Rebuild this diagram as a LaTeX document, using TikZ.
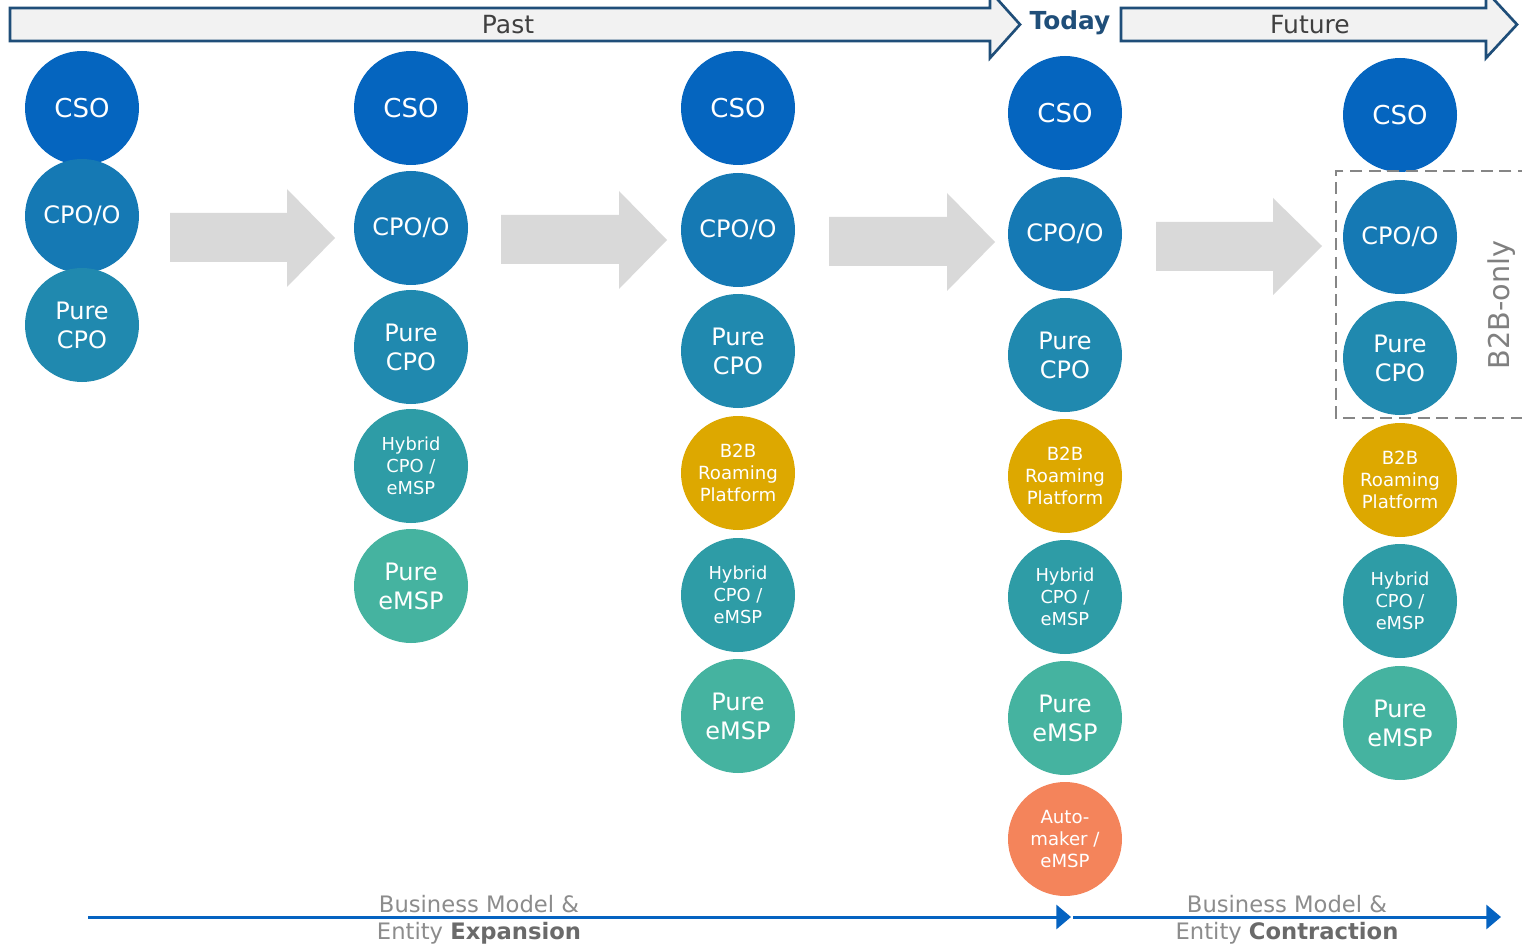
\documentclass[tikz,border=0pt]{standalone}
\usepackage{fontspec}
\setmainfont{DejaVu Sans}
\usetikzlibrary{arrows.meta}
\definecolor{cso}{HTML}{0565BF}
\definecolor{cpoo}{HTML}{1579B4}
\definecolor{purecpo}{HTML}{2089AF}
\definecolor{hybrid}{HTML}{2E9CA6}
\definecolor{pureemsp}{HTML}{45B3A0}
\definecolor{btob}{HTML}{DDA800}
\definecolor{auto}{HTML}{F4845B}
\definecolor{navy}{HTML}{1F4E79}
\definecolor{hdrfill}{HTML}{F2F2F2}
\definecolor{bigarrow}{HTML}{D9D9D9}
\definecolor{lineblue}{HTML}{0563C1}
\definecolor{txtgray}{HTML}{8C8C8C}
\definecolor{txtdark}{HTML}{6A6A6A}
\tikzset{
  circ/.style={circle, minimum size=85.5pt, inner sep=0pt, text=white, align=center},
  bigtxt/.style={font=\fontsize{19.5}{21.75}\selectfont},
  midtxt/.style={font=\fontsize{18}{21.75}\selectfont},
  smalltxt/.style={font=\fontsize{13.4}{16.5}\selectfont},
  b2btxt/.style={font=\fontsize{13.6}{16.5}\selectfont},
  hdr/.style={draw=navy, line width=2pt, fill=hdrfill, line join=miter},
  grayarrow/.style={fill=bigarrow, draw=none},
  hdrtxt/.style={font=\fontsize{18.75}{22}\selectfont, text=black!75},
  bluearrow/.style={draw=lineblue, line width=2.25pt, -{Triangle[length=11pt,width=18pt]}},
  bottxt/.style={font=\fontsize{17}{20}\selectfont, text=txtgray, align=center}
}
\begin{document}
\begin{tikzpicture}[x=0.75pt,y=-0.75pt]
\clip (0,0) rectangle (1522,945);
\fill[white] (0,0) rectangle (1522,945);
% header arrows
\path[hdr] (10,8) -- (990,8) -- (990,-9) -- (1020,24.5) -- (990,58) -- (990,41) -- (10,41) -- cycle;
\node[hdrtxt] (past) at (508,25) {Past};
\node[font=\bfseries\fontsize{18.6}{20}\selectfont, text=navy] (today) at (1070,23) {Today};
\path[hdr] (1121,8) -- (1486,8) -- (1486,-9) -- (1517,24.5) -- (1486,58) -- (1486,41) -- (1121,41) -- cycle;
\node[hdrtxt] (future) at (1310,25) {Future};
% gray arrows
\path[grayarrow] (170,213) -- (287,213) -- (287,189) -- (335,238) -- (287,287) -- (287,262) -- (170,262) -- cycle;
\path[grayarrow] (501,215) -- (619,215) -- (619,191) -- (667,240) -- (619,289) -- (619,264) -- (501,264) -- cycle;
\path[grayarrow] (829,217) -- (947,217) -- (947,193) -- (995,242) -- (947,291) -- (947,266) -- (829,266) -- cycle;
\path[grayarrow] (1156,222) -- (1273,222) -- (1273,198) -- (1322,246) -- (1273,295) -- (1273,271) -- (1156,271) -- cycle;
% column 1
\node[circ, fill=cso, bigtxt] (a1) at (82,108) {CSO};
\node[circ, fill=cpoo, midtxt] (a2) at (82,216) {CPO/O};
\node[circ, fill=purecpo, midtxt] (a3) at (82,325) {Pure\\CPO};
% column 2
\node[circ, fill=cso, bigtxt] (b1) at (411,108) {CSO};
\node[circ, fill=cpoo, midtxt] (b2) at (411,228) {CPO/O};
\node[circ, fill=purecpo, midtxt] (b3) at (411,347) {Pure\\CPO};
\node[circ, fill=hybrid, smalltxt] (b4) at (411,466) {Hybrid\\CPO /\\eMSP};
\node[circ, fill=pureemsp, midtxt] (b5) at (411,586) {Pure\\eMSP};
% column 3
\node[circ, fill=cso, bigtxt] (c1) at (738,108) {CSO};
\node[circ, fill=cpoo, midtxt] (c2) at (738,230) {CPO/O};
\node[circ, fill=purecpo, midtxt] (c3) at (738,351) {Pure\\CPO};
\node[circ, fill=btob, b2btxt] (c4) at (738,473) {B2B\\Roaming\\Platform};
\node[circ, fill=hybrid, smalltxt] (c5) at (738,595) {Hybrid\\CPO /\\eMSP};
\node[circ, fill=pureemsp, midtxt] (c6) at (738,716) {Pure\\eMSP};
% column 4
\node[circ, fill=cso, bigtxt] (d1) at (1065,113) {CSO};
\node[circ, fill=cpoo, midtxt] (d2) at (1065,234) {CPO/O};
\node[circ, fill=purecpo, midtxt] (d3) at (1065,355) {Pure\\CPO};
\node[circ, fill=btob, b2btxt] (d4) at (1065,476) {B2B\\Roaming\\Platform};
\node[circ, fill=hybrid, smalltxt] (d5) at (1065,597) {Hybrid\\CPO /\\eMSP};
\node[circ, fill=pureemsp, midtxt] (d6) at (1065,718) {Pure\\eMSP};
\node[circ, fill=auto, b2btxt] (d7) at (1065,839) {Auto-\\maker /\\eMSP};
% column 5
\node[circ, fill=cso, bigtxt] (e1) at (1400,115) {CSO};
\node[circ, fill=cpoo, midtxt] (e2) at (1400,237) {CPO/O};
\node[circ, fill=purecpo, midtxt] (e3) at (1400,358) {Pure\\CPO};
\node[circ, fill=btob, b2btxt] (e4) at (1400,480) {B2B\\Roaming\\Platform};
\node[circ, fill=hybrid, smalltxt] (e5) at (1400,601) {Hybrid\\CPO /\\eMSP};
\node[circ, fill=pureemsp, midtxt] (e6) at (1400,723) {Pure\\eMSP};
% B2B-only box
\draw[draw=gray!95, line width=1.8pt, dash pattern=on 9pt off 5pt] (1530,171) -- (1336,171) -- (1336,418) -- (1530,418);
\node[rotate=90, font=\fontsize{21.5}{24}\selectfont, text=gray] (b2bonly) at (1502,305) {B2B-only};
% bottom arrows
\coordinate (l1s) at (88,917);
\coordinate (l1e) at (1071,917);
\coordinate (l2s) at (1073,917);
\coordinate (l2e) at (1501,917);
\draw[bluearrow] (l1s) -- (l1e);
\draw[bluearrow] (l2s) -- (l2e);
\node[bottxt] (exp1) at (479,904) {Business Model \&};
\node[bottxt] (exp2) at (479,933) {Entity \textcolor{txtdark}{\bfseries Expansion}};
\node[bottxt] (con1) at (1287,904) {Business Model \&};
\node[bottxt] (con2) at (1287,933) {Entity \textcolor{txtdark}{\bfseries Contraction}};
\end{tikzpicture}
\end{document}
